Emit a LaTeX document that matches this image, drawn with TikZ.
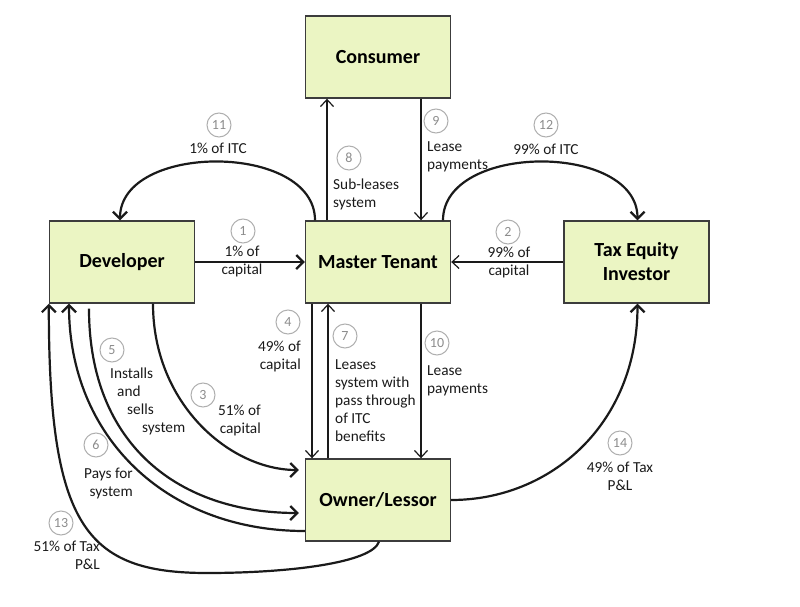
\documentclass[tikz,border=0pt]{standalone}
\usepackage{fontspec}
\setmainfont{Carlito}
\usetikzlibrary{arrows.meta}

\definecolor{boxfill}{HTML}{EBF5C3}
\definecolor{boxline}{HTML}{3C3C3C}
\definecolor{numgray}{HTML}{8C8C8C}
\definecolor{ink}{HTML}{1A1A1A}

\tikzset{
  party/.style={draw=boxline, line width=1.4pt, fill=boxfill, minimum width=145pt, minimum height=82pt,
    align=center, text=black, font=\fontsize{20}{24}\selectfont\bfseries},
  num/.style={circle, draw=numgray!70, line width=1pt, text=numgray, minimum size=24pt, inner sep=0pt,
    font=\fontsize{14}{14}\selectfont},
  lbl/.style={text=ink, inner sep=0pt, font=\fontsize{15.3}{18}\selectfont},
  flow/.style={draw=ink, line width=2.2pt, -{Straight Barb[length=7pt,width=14pt]}},
  thinflow/.style={draw=ink, line width=1.2pt, -{Straight Barb[length=7pt,width=13pt]}}
}

\begin{document}
\begin{tikzpicture}[x=1pt, y=-1pt]
\useasboundingbox (0,0) rectangle (800,607);

\node[party] (cons) at (378,57) {Consumer};
\node[party] (mt) at (378,262) {Master Tenant};
\node[party] (dev) at (122,262) {Developer};
\node[party] (tei) at (636.5,262) {Tax Equity\\Investor};
\node[party] (ol) at (378,500) {Owner/Lessor};

\coordinate (dip) at (207,573);

\draw[flow] (dev) -- (mt);
\draw[thinflow] (tei) -- (mt);
\draw[thinflow] ([xshift=-51pt]mt.north) -- ([xshift=-51pt]cons.south);
\draw[thinflow] ([xshift=43pt]cons.south) -- ([xshift=43pt]mt.north);
\draw[thinflow] ([xshift=-66pt]mt.south) -- ([xshift=-66pt]ol.north);
\draw[thinflow] ([xshift=-50pt]ol.north) -- ([xshift=-50pt]mt.south);
\draw[thinflow] ([xshift=43pt]mt.south) -- ([xshift=43pt]ol.north);

\draw[flow] ([xshift=-63pt]mt.north) .. controls +(0,-78) and +(0,-78) .. ([xshift=-2pt]dev.north);
\draw[flow] ([xshift=65pt]mt.north) .. controls +(0,-78) and +(0,-78) .. ([xshift=1pt]tei.north);
\draw[flow] (ol.east) .. controls +(100,0) and +(0,120) .. ([xshift=1pt]tei.south);

\draw[flow, shorten >=6pt] ([xshift=31pt]dev.south) .. controls +(0,100) and +(-75,0) .. ([yshift=30pt]ol.west);
\draw[flow, shorten <=5pt, shorten >=6pt] ([xshift=-33pt]dev.south) .. controls +(0,142) and +(-125,0) .. ([yshift=-13pt]ol.west);
\draw[flow] ([yshift=-31pt]ol.west) .. controls +(-140,0) and +(0,132) .. ([xshift=-53pt]dev.south);
\draw[flow] ([xshift=1pt]ol.south) .. controls +(-7,21) and +(83,0) .. (dip)
  .. controls +(-122,0) and +(0,222) .. (dev.south west);

\node[num] (n11) at (219,125) {11};
\node[lbl] (t11) at (218,148) {1\% of ITC};
\node[num] (n1) at (243,231) {1};
\node[lbl, align=center] (t1) at (242,261) {1\% of\\capital};
\node[num] (n12) at (546,125) {12};
\node[lbl] (t12) at (546,149) {99\% of ITC};
\node[num] (n2) at (508,232) {2};
\node[lbl, align=center] (t2) at (509,262) {99\% of\\capital};
\node[num] (n8) at (349,158) {8};
\node[lbl, align=left, anchor=west] (t8) at (333,194) {Sub-leases\\system};
\node[num] (n9) at (436,121) {9};
\node[lbl, align=left, anchor=west] (t9) at (427,157) {Lease\\payments};
\node[num] (n4) at (288,322) {4};
\node[lbl, align=right, anchor=east] (t4) at (301,356) {49\% of\\capital};
\node[num] (n7) at (345,336) {7};
\node[lbl, align=left, anchor=west] (t7) at (335,401) {Leases\\system with\\pass through\\of ITC\\benefits};
\node[num] (n10) at (437,343) {10};
\node[lbl, align=left, anchor=west] (t10) at (427,381) {Lease\\payments};
\node[num] (n5) at (112,350) {5};
\node[lbl, align=left, anchor=west] (t5) at (110,401) {Installs\\\hspace*{7pt}and\\\hspace*{17pt}sells\\\hspace*{32pt}system};
\node[num] (n3) at (203,395) {3};
\node[lbl, align=right, anchor=east] (t3) at (261,420) {51\% of\\capital};
\node[num] (n6) at (96,445) {6};
\node[lbl, align=right, anchor=east] (t6) at (133,483) {Pays for\\system};
\node[num] (n13) at (61,523) {13};
\node[lbl, align=right, anchor=east] (t13) at (100,555) {51\% of Tax\\P\&L};
\node[num] (n14) at (620,443) {14};
\node[lbl, align=center] (t14) at (620,476) {49\% of Tax\\P\&L};

\end{tikzpicture}
\end{document}
